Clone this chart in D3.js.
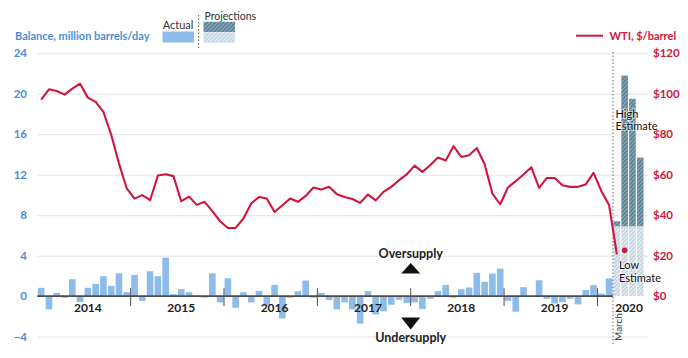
<!DOCTYPE html>
<html><head><meta charset="utf-8">
<script src="https://cdn.jsdelivr.net/npm/d3@7"></script>
<style>
body{margin:0;background:#fff;}
svg{display:block;font-family:Lato,'Open Sans',sans-serif;}
</style>
</head><body>
<svg id="c" width="688" height="358"></svg>
<script>
// ---------- data ----------
const years = ["2014","2015","2016","2017","2018","2019","2020"];
// monthly supply/demand balance, million barrels/day (Jan 2014 - Feb 2020)
const balance = [
  0.82,-1.31,0.33,-0.16,1.67,-0.59,0.82,1.21,1.97,1.02,2.26,0.39,
  2.10,-0.46,2.46,1.97,3.80,0.20,0.69,0.39,0.05,-0.16,2.26,-0.62,
  1.77,-1.15,0.39,-0.62,0.52,-0.89,1.11,-2.20,-0.16,0.49,1.54,-0.16,
  0.33,-0.39,-1.31,-0.62,-1.31,-2.72,0.49,-1.80,-1.50,-0.85,-0.36,-0.69,
  -0.62,-1.28,-0.26,0.49,1.11,-0.16,0.69,0.85,2.30,1.41,2.23,2.72,
  -0.46,-1.54,0.89,0.00,1.57,-0.26,-0.72,-0.60,-0.26,-0.82,0.60,1.08,
  0.25,1.75
];
// WTI monthly price, $/barrel (Jan 2014 - Mar 2020)
const wti = [
  97.1,102.2,101.4,99.6,102.5,105.0,98.1,96.0,91.0,79.8,65.5,53.2,
  48.2,49.9,47.4,59.6,60.2,59.3,46.9,49.2,45.1,46.6,42.0,37.0,
  33.7,33.7,38.4,45.8,49.0,48.2,41.6,44.9,48.2,46.6,49.5,53.7,
  52.7,54.0,50.4,49.0,48.0,46.1,50.2,47.3,51.5,54.0,57.3,60.2,
  64.5,61.4,64.7,68.5,67.0,74.1,68.8,69.6,73.2,65.2,50.7,45.4,
  53.7,56.8,60.1,63.7,53.5,58.4,58.4,54.8,54.0,54.0,55.2,60.9,
  52.0,45.0,20.6
];
const wtiProjMonth = "2020-04";
const wtiProjValue = 22.7;
const projMonths = ["2020-03","2020-04","2020-05","2020-06"];
const projHigh = [7.4,21.8,19.5,13.7];
const projLow  = [6.9,6.9,6.9,6.9];
const leftTicks = [-4,0,4,8,12,16,20,24];
const rightTicks = [0,20,40,60,80,100,120];

// ---------- setup ----------
const months = years.flatMap(y => d3.range(12).map(m => `${y}-${String(m+1).padStart(2,"0")}`)).slice(0,78);
const svg = d3.select("#c");
const BLUE_TXT = "#4a8ed8", BAR = "#8dbbea", RED = "#d0163e", DARK = "#222";
const x0 = 37.3, x1 = 644.1;
const x = d3.scaleBand().domain(months).range([x0, x1]).paddingInner(0.15).paddingOuter(0.075);
const step = x.step();
const bound = k => x(k) - step * 0.075;
const cx = k => x(k) + x.bandwidth()/2;
const yL = d3.scaleLinear().domain([-4,24]).range([336.6,53.3]);
const yR = d3.scaleLinear().domain([-20,120]).range([336.6,53.3]);

// patterns
const defs = svg.append("defs");
function hatch(id, bg, fg){
  const p = defs.append("pattern").attr("id",id).attr("patternUnits","userSpaceOnUse")
    .attr("width",4).attr("height",4);
  p.append("rect").attr("width",4).attr("height",4).attr("fill",bg);
  p.append("path").attr("d","M-1,1 l2,-2 M0,4 l4,-4 M3,5 l2,-2")
    .attr("stroke",fg).attr("stroke-width",1.1);
}
hatch("hDark","#5c8297","#90abbc");
hatch("hLight","#c6d6e1","#e9eff3");

// gridlines
svg.append("g").attr("transform",`translate(${x0},0)`)
  .call(d3.axisLeft(yL).tickValues(leftTicks.filter(d=>d!==0)).tickSize(-(648-x0)).tickFormat(""))
  .call(g=>g.select(".domain").remove())
  .call(g=>g.selectAll("line").attr("stroke","#e3e3e3").attr("stroke-width",1));

// left axis labels
svg.append("g").attr("transform","translate(27,0)")
  .call(d3.axisLeft(yL).tickValues(leftTicks).tickSize(0).tickPadding(0))
  .call(g=>g.select(".domain").remove())
  .call(g=>g.selectAll("text").attr("fill",BLUE_TXT).attr("font-weight","bold")
    .attr("font-size",11.5).attr("font-family","Lato,'Open Sans',sans-serif"));

// right axis labels
svg.append("g").attr("transform","translate(653,0)")
  .call(d3.axisRight(yR).tickValues(rightTicks).tickFormat(d=>"$"+d).tickSize(0).tickPadding(0))
  .call(g=>g.select(".domain").remove())
  .call(g=>g.selectAll("text").attr("fill",RED).attr("font-weight","bold")
    .attr("font-size",11.5).attr("font-family","Lato,'Open Sans',sans-serif"));

// actual bars
svg.append("g").selectAll("rect").data(balance).join("rect")
  .attr("x",(d,i)=>x(months[i])).attr("width",x.bandwidth())
  .attr("y",d=>yL(Math.max(0,d))).attr("height",d=>Math.abs(yL(d)-yL(0)))
  .attr("fill",BAR);

// projection bars
const pg = svg.append("g");
projMonths.forEach((m,i)=>{
  pg.append("rect").attr("x",x(m)).attr("width",x.bandwidth())
    .attr("y",yL(projLow[i])).attr("height",yL(0)-yL(projLow[i])).attr("fill","url(#hLight)");
  pg.append("rect").attr("x",x(m)).attr("width",x.bandwidth())
    .attr("y",yL(projHigh[i])).attr("height",yL(projLow[i])-yL(projHigh[i])).attr("fill","url(#hDark)");
});

// zero axis + year ticks
const marchX = bound("2020-03");
svg.append("line").attr("x1",x0).attr("x2",marchX).attr("y1",yL(0)).attr("y2",yL(0))
  .attr("stroke","#4d4d4d").attr("stroke-width",1.6);
years.slice(1).forEach(y=>{
  const bx = bound(y+"-01");
  svg.append("line").attr("x1",bx).attr("x2",bx).attr("y1",yL(0)-8).attr("y2",yL(0)+10)
    .attr("stroke","#4d4d4d").attr("stroke-width",1);
});
years.forEach(y=>{
  const k = y==="2020" ? "2020-05" : y+"-07";
  svg.append("text").attr("x", y==="2020" ? x(k) : cx(k)).attr("y",312).attr("text-anchor","middle")
    .attr("font-size",12).attr("font-weight","bold").attr("fill",DARK).text(y);
});

// dotted March line
svg.append("line").attr("x1",marchX).attr("x2",marchX).attr("y1",52).attr("y2",346)
  .attr("stroke","#666").attr("stroke-width",1).attr("stroke-dasharray","1.5,2");
svg.append("text").attr("transform",`translate(${marchX+9.5},341) rotate(-90)`)
  .attr("font-size",10).attr("fill","#333").text("March");

// WTI line
svg.append("path").datum(wti)
  .attr("d",d3.line().x((d,i)=>cx(months[i])).y(d=>yR(d)))
  .attr("fill","none").attr("stroke",RED).attr("stroke-width",2.1).attr("stroke-linejoin","round");
svg.append("circle").attr("cx",cx(wtiProjMonth)).attr("cy",yR(wtiProjValue)).attr("r",2.8).attr("fill",RED);

// estimate labels (two lines)
function label(lines, xx, y0){
  lines.forEach((s,i)=>{
    svg.append("text").attr("x",xx).attr("y",y0+i*12.6).attr("font-size",11).attr("fill","#111")
      .attr("stroke","rgba(255,255,255,0.55)").attr("stroke-width",2).attr("paint-order","stroke").text(s);
  });
}
label(["High","Estimate"], 615.5, 117.5);
label(["Low","Estimate"], 619, 269);

// oversupply / undersupply
const ax = bound("2018-01");
svg.append("text").attr("x",ax).attr("y",258).attr("text-anchor","middle")
  .attr("font-size",12.5).attr("font-weight","bold").attr("fill",DARK).text("Oversupply");
svg.append("path").attr("d",`M${ax-9.5},273.5 L${ax+9.5},273.5 L${ax},263 Z`).attr("fill","#111");
svg.append("path").attr("d",`M${ax-9.5},317.5 L${ax+9.5},317.5 L${ax},329.5 Z`).attr("fill","#111");
svg.append("text").attr("x",ax).attr("y",341.5).attr("text-anchor","middle")
  .attr("font-size",12.5).attr("font-weight","bold").attr("fill",DARK).text("Undersupply");

// left legend
svg.append("text").attr("x",15).attr("y",40).attr("font-size",11).attr("font-weight","bold")
  .attr("fill",BLUE_TXT).text("Balance, million barrels/day");
svg.append("rect").attr("x",162.5).attr("y",31.5).attr("width",31.5).attr("height",11).attr("fill",BAR);
svg.append("text").attr("x",178).attr("y",29).attr("text-anchor","middle").attr("font-size",11)
  .attr("fill","#333").text("Actual");
svg.append("line").attr("x1",198.7).attr("x2",198.7).attr("y1",15).attr("y2",49)
  .attr("stroke","#555").attr("stroke-width",1).attr("stroke-dasharray","1.5,2");
svg.append("text").attr("x",204.5).attr("y",19.5).attr("font-size",10.5).attr("fill","#333").text("Projections");
svg.append("rect").attr("x",203.5).attr("y",21.8).attr("width",31.5).attr("height",10.2).attr("fill","url(#hDark)");
svg.append("rect").attr("x",203.5).attr("y",32.3).attr("width",31.5).attr("height",10.4).attr("fill","url(#hLight)");

// right legend
svg.append("line").attr("x1",576).attr("x2",603).attr("y1",35.7).attr("y2",35.7)
  .attr("stroke",RED).attr("stroke-width",2);
svg.append("text").attr("x",609.5).attr("y",40).attr("font-size",11).attr("font-weight","bold")
  .attr("fill",RED).text("WTI, $/barrel");
</script>
</body></html>
